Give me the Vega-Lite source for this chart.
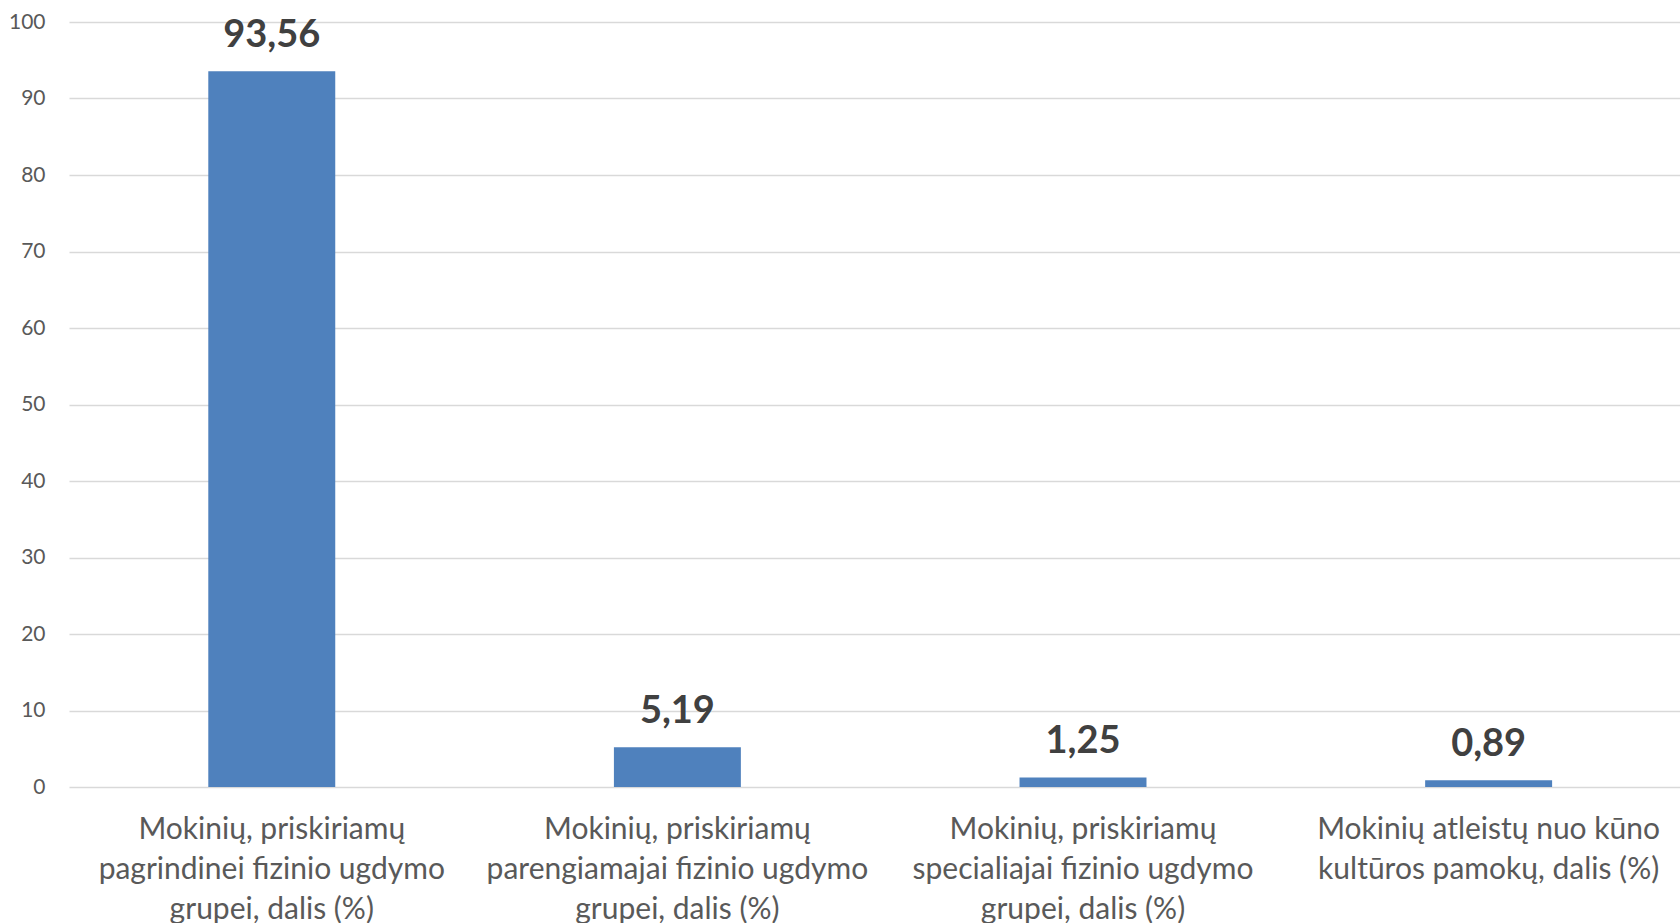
{
  "$schema": "https://vega.github.io/schema/vega-lite/v6.json",
  "autosize": "none",
  "padding": {"left": 69, "top": 22, "right": 0, "bottom": 136},
  "width": 1611,
  "height": 765,
  "background": "white",
  "config": {"view": {"stroke": null}},
  "data": {
    "values": [
      {"kategorija": "Mokinių, priskiriamų pagrindinei fizinio ugdymo grupei, dalis (%)", "reiksme": 93.56, "zyme": "93,56"},
      {"kategorija": "Mokinių, priskiriamų parengiamajai fizinio ugdymo grupei, dalis (%)", "reiksme": 5.19, "zyme": "5,19"},
      {"kategorija": "Mokinių, priskiriamų specialiajai fizinio ugdymo grupei, dalis (%)", "reiksme": 1.25, "zyme": "1,25"},
      {"kategorija": "Mokinių atleistų nuo kūno kultūros pamokų, dalis (%)", "reiksme": 0.89, "zyme": "0,89"}
    ]
  },
  "encoding": {
    "x": {
      "field": "kategorija",
      "type": "nominal",
      "sort": null,
      "scale": {"range": [0, 1622.4], "paddingInner": 0.687, "paddingOuter": 0.3434},
      "axis": {
        "title": null,
        "domain": false,
        "ticks": false,
        "labelAngle": 0,
        "labelFont": "Lato",
        "labelFontSize": 30,
        "labelColor": "#595959",
        "labelLineHeight": 40,
        "labelPadding": 27,
        "labelLimit": 0,
        "labelBaseline": "top",
        "labelExpr": "split(replace(replace(replace(datum.label, 'priskiriamų ', 'priskiriamų|'), 'ugdymo ', 'ugdymo|'), 'kūno ', 'kūno|'), '|')"
      }
    },
    "y": {
      "field": "reiksme",
      "type": "quantitative",
      "scale": {"domain": [0, 100]},
      "axis": {
        "title": null,
        "domain": false,
        "ticks": false,
        "values": [0, 10, 20, 30, 40, 50, 60, 70, 80, 90, 100],
        "labelFont": "Lato",
        "labelFontSize": 21,
        "labelColor": "#595959",
        "labelPadding": 24,
        "grid": true,
        "gridColor": "#d9d9d9",
        "gridWidth": 1.5
      }
    }
  },
  "layer": [
    {"mark": {"type": "bar", "color": "#4f81bd"}},
    {
      "mark": {"type": "text", "font": "Lato", "fontWeight": "bold", "fontSize": 38, "color": "#404040", "baseline": "alphabetic", "dy": -24},
      "encoding": {"text": {"field": "zyme"}}
    }
  ]
}
